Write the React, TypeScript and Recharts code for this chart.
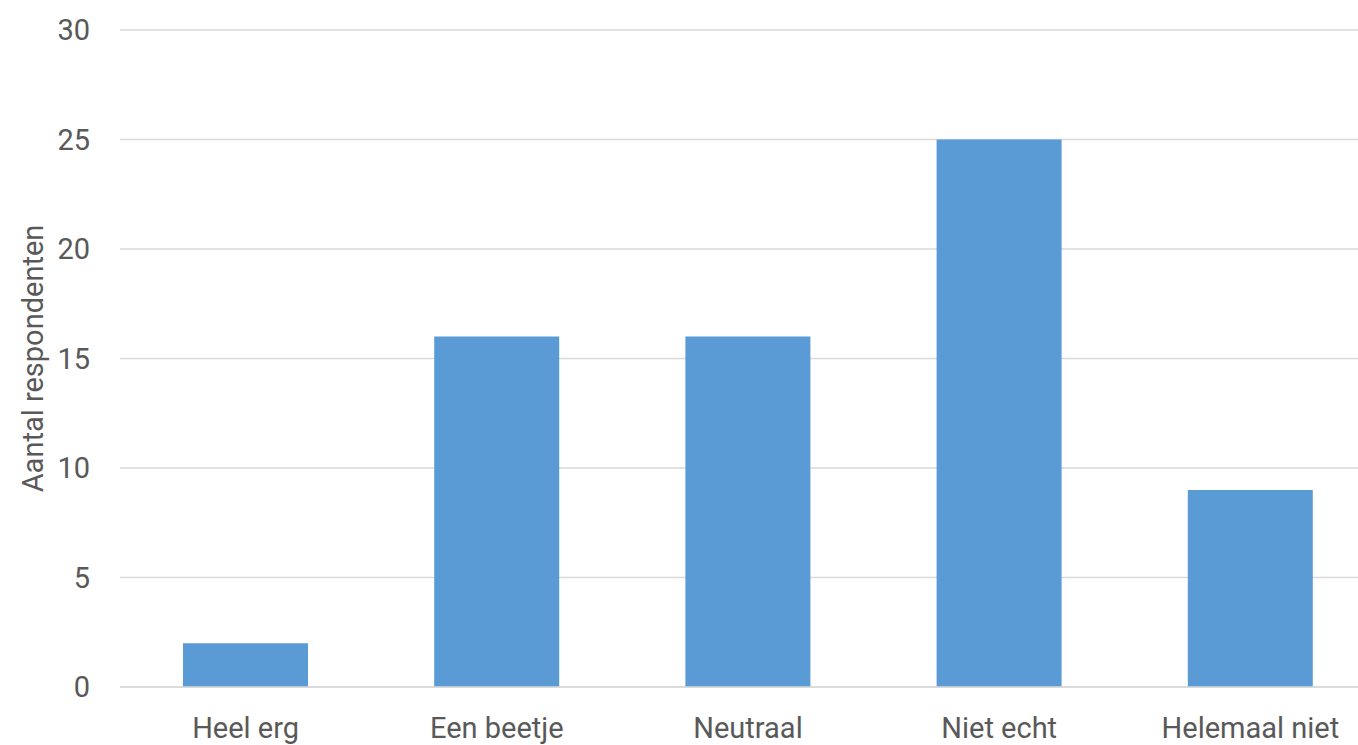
import React from 'react';
import { BarChart, Bar, XAxis, YAxis, CartesianGrid, Label } from 'recharts';

const categories = ['Heel erg', 'Een beetje', 'Neutraal', 'Niet echt', 'Helemaal niet'];
const values = [2, 16, 16, 25, 9];
const yTicks = [0, 5, 10, 15, 20, 25, 30];
const yTitle = 'Aantal respondenten';

const data = categories.map((c, i) => ({ name: c, value: values[i] }));

const FONT = 'Roboto, sans-serif';
const TEXT = '#595959';

export default function App() {
  return (
    <div style={{ position: 'absolute', left: 0, top: 0, width: 1358, height: 745, overflow: 'hidden', background: '#fff' }}>
      <BarChart
        width={1376}
        height={745}
        data={data}
        margin={{ top: 30, right: 0, bottom: 0, left: 0 }}
        style={{ fontFamily: FONT }}
      >
        <CartesianGrid vertical={false} stroke="#D9D9D9" strokeWidth={1.5} />
        <XAxis
          dataKey="name"
          height={58}
          axisLine={{ stroke: '#D9D9D9', strokeWidth: 1.5 }}
          tickLine={false}
          tickSize={0}
          tickMargin={30}
          interval={0}
          tick={{ fill: TEXT, fontSize: 29, fontFamily: FONT }}
        />
        <YAxis
          width={120}
          domain={[0, 30]}
          ticks={yTicks}
          axisLine={false}
          tickLine={false}
          tickSize={0}
          tickMargin={30}
          tick={{ fill: TEXT, fontSize: 29, fontFamily: FONT }}
        >
          <Label
            value={yTitle}
            angle={-90}
            position="center"
            dx={-27}
            dy={0}
            style={{ fill: TEXT, fontSize: 29, fontFamily: FONT, textAnchor: 'middle' }}
          />
        </YAxis>
        <Bar dataKey="value" fill="#5B9BD5" barSize={125} isAnimationActive={false} />
      </BarChart>
    </div>
  );
}
